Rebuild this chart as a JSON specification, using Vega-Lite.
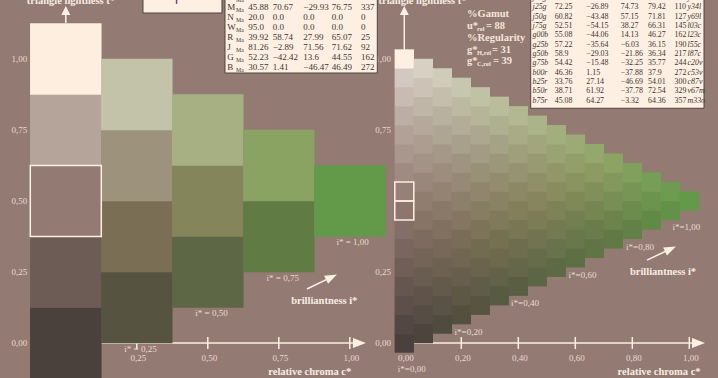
{
  "$schema": "https://vega.github.io/schema/vega-lite/v6.json",
  "width": 718,
  "height": 378,
  "padding": 0,
  "autosize": {"type": "none"},
  "background": "#937a73",
  "config": {"view": {"stroke": null}, "axis": {"disable": true}, "legend": {"disable": true}, "text": {"font": "Liberation Serif"}},
  "resolve": {"scale": {"x": "independent", "y": "independent", "color": "independent"}},
  "layer": [
    {
      "layer": [
        {"data": {"values": [{}]}, "mark": {"type": "rule", "color": "#fdf0e2", "strokeWidth": 1.5},
         "encoding": {"x": {"datum": 0, "type": "quantitative", "scale": {"domain": [-0.23169, 2.29648], "nice": false, "zero": false}}, "x2": {"datum": 1.03},
                      "y": {"datum": 0, "type": "quantitative", "scale": {"domain": [-0.12324, 1.20775], "nice": false, "zero": false}}}},
        {"data": {"values": [{}]}, "mark": {"type": "point", "shape": "M-1,-0.77L1,0L-1,0.77Z", "size": 169, "filled": true, "color": "#fdf0e2", "opacity": 1},
         "encoding": {"x": {"datum": 1.034, "type": "quantitative", "scale": {"domain": [-0.23169, 2.29648], "nice": false, "zero": false}},
                      "y": {"datum": 0, "type": "quantitative", "scale": {"domain": [-0.12324, 1.20775], "nice": false, "zero": false}}}},
        {"data": {"values": [{"c": 0.25, "lab": "0,25"}, {"c": 0.5, "lab": "0,50"}, {"c": 0.75, "lab": "0,75"}, {"c": 1, "lab": "1,00"}]},
         "layer": [
           {"mark": {"type": "rule", "color": "#fdf0e2", "strokeWidth": 1.5},
            "encoding": {"x": {"field": "c", "type": "quantitative", "scale": {"domain": [-0.23169, 2.29648], "nice": false, "zero": false}},
                         "y": {"datum": -0.021, "type": "quantitative", "scale": {"domain": [-0.12324, 1.20775], "nice": false, "zero": false}}, "y2": {"datum": 0.021}}},
           {"mark": {"type": "text", "align": "center", "baseline": "middle", "fontSize": 9, "color": "#eadbd0", "dx": 1.5},
            "encoding": {"x": {"field": "c", "type": "quantitative", "scale": {"domain": [-0.23169, 2.29648], "nice": false, "zero": false}},
                         "y": {"datum": -0.053, "type": "quantitative", "scale": {"domain": [-0.12324, 1.20775], "nice": false, "zero": false}}, "text": {"field": "lab"}}}
         ]},
        {"data": {"values": [
          {"c": 0, "t": 0, "id": "L0"}, {"c": 0, "t": 0.25, "id": "L1"}, {"c": 0, "t": 0.5, "id": "L2"}, {"c": 0, "t": 0.75, "id": "L3"}, {"c": 0, "t": 1, "id": "L4"},
          {"c": 0.25, "t": 0.125, "id": "L5"}, {"c": 0.25, "t": 0.375, "id": "L6"}, {"c": 0.25, "t": 0.625, "id": "L7"}, {"c": 0.25, "t": 0.875, "id": "L8"},
          {"c": 0.5, "t": 0.25, "id": "L9"}, {"c": 0.5, "t": 0.5, "id": "L10"}, {"c": 0.5, "t": 0.75, "id": "L11"},
          {"c": 0.75, "t": 0.375, "id": "L12"}, {"c": 0.75, "t": 0.625, "id": "L13"},
          {"c": 1, "t": 0.5, "id": "L14"}]},
         "mark": {"type": "point", "shape": "square", "filled": true, "size": 5112, "opacity": 1},
         "encoding": {"x": {"field": "c", "type": "quantitative", "scale": {"domain": [-0.23169, 2.29648], "nice": false, "zero": false}},
                      "y": {"field": "t", "type": "quantitative", "scale": {"domain": [-0.12324, 1.20775], "nice": false, "zero": false}},
                      "color": {"field": "id", "type": "nominal", "legend": null,
                                "scale": {"domain": ["L0","L1","L2","L3","L4","L5","L6","L7","L8","L9","L10","L11","L12","L13","L14"],
                                          "range": ["#4a403c","#6d5c55","#937a73","#b4a49a","#fdeee0","#565441","#7a6f55","#9d937d","#c2c3a8","#5d6745","#85855b","#a7b083","#617b45","#8aa262","#629a4a"]}}}},
        {"data": {"values": [{"c": 0, "t": 0.5}]}, "mark": {"type": "point", "shape": "square", "filled": false, "size": 5041, "color": "#fdf0e2", "strokeWidth": 1.5, "opacity": 1},
         "encoding": {"x": {"field": "c", "type": "quantitative", "scale": {"domain": [-0.23169, 2.29648], "nice": false, "zero": false}},
                      "y": {"field": "t", "type": "quantitative", "scale": {"domain": [-0.12324, 1.20775], "nice": false, "zero": false}}}},
        {"data": {"values": [{"t": 1, "lab": "1,00"}, {"t": 0.75, "lab": "0,75"}, {"t": 0.5, "lab": "0,50"}, {"t": 0.25, "lab": "0,25"}, {"t": 0, "lab": "0,00"}]},
         "mark": {"type": "text", "align": "right", "baseline": "middle", "fontSize": 9, "color": "#eadbd0"},
         "encoding": {"x": {"datum": -0.136, "type": "quantitative", "scale": {"domain": [-0.23169, 2.29648], "nice": false, "zero": false}},
                      "y": {"field": "t", "type": "quantitative", "scale": {"domain": [-0.12324, 1.20775], "nice": false, "zero": false}}, "text": {"field": "lab"}}},
        {"data": {"values": [{"c": 0.263, "t": -0.021, "lab": "i* = 0,25"}, {"c": 0.513, "t": 0.107, "lab": "i* = 0,50"}, {"c": 0.764, "t": 0.229, "lab": "i* = 0,75"}, {"c": 1.01, "t": 0.357, "lab": "i* = 1,00"}]},
         "mark": {"type": "text", "align": "center", "baseline": "middle", "fontSize": 9, "color": "#eadbd0"},
         "encoding": {"x": {"field": "c", "type": "quantitative", "scale": {"domain": [-0.23169, 2.29648], "nice": false, "zero": false}},
                      "y": {"field": "t", "type": "quantitative", "scale": {"domain": [-0.12324, 1.20775], "nice": false, "zero": false}}, "text": {"field": "lab"}}},
        {"data": {"values": [{"c": 0.91, "t": 0.149, "lab": "brilliantness i*"}, {"c": 0.859, "t": -0.101, "lab": "relative chroma c*"}, {"c": 0.018, "t": 1.2025, "lab": "triangle lightness t*"}]},
         "mark": {"type": "text", "align": "center", "baseline": "middle", "fontSize": 10.5, "fontWeight": "bold", "color": "#f8ede2"},
         "encoding": {"x": {"field": "c", "type": "quantitative", "scale": {"domain": [-0.23169, 2.29648], "nice": false, "zero": false}},
                      "y": {"field": "t", "type": "quantitative", "scale": {"domain": [-0.12324, 1.20775], "nice": false, "zero": false}}, "text": {"field": "lab"}}},
        {"data": {"values": [{"c": 0.849, "t": 0.19, "c2": 0.9356, "t2": 0.2317}, {"c": 0, "t": 1.127, "c2": 0, "t2": 1.16}]},
         "mark": {"type": "rule", "color": "#fdf0e2", "strokeWidth": 1.5},
         "encoding": {"x": {"field": "c", "type": "quantitative", "scale": {"domain": [-0.23169, 2.29648], "nice": false, "zero": false}}, "x2": {"field": "c2"},
                      "y": {"field": "t", "type": "quantitative", "scale": {"domain": [-0.12324, 1.20775], "nice": false, "zero": false}}, "y2": {"field": "t2"}}},
        {"data": {"values": [{}]}, "mark": {"type": "point", "shape": "M-1,-0.75L1,0L-1,0.75Z", "size": 144, "angle": -26, "filled": true, "color": "#fdf0e2", "opacity": 1},
         "encoding": {"x": {"datum": 0.9356, "type": "quantitative", "scale": {"domain": [-0.23169, 2.29648], "nice": false, "zero": false}},
                      "y": {"datum": 0.2317, "type": "quantitative", "scale": {"domain": [-0.12324, 1.20775], "nice": false, "zero": false}}}},
        {"data": {"values": [{}]}, "mark": {"type": "point", "shape": "M0,-1L1,1L-1,1Z", "size": 81, "filled": true, "color": "#fdf0e2", "opacity": 1},
         "encoding": {"x": {"datum": 0, "type": "quantitative", "scale": {"domain": [-0.23169, 2.29648], "nice": false, "zero": false}},
                      "y": {"datum": 1.1708, "type": "quantitative", "scale": {"domain": [-0.12324, 1.20775], "nice": false, "zero": false}}}},
        {"data": {"values": [{}]}, "mark": {"type": "rect", "fill": "#fdf0e2", "stroke": "#4e4541", "strokeWidth": 1},
         "encoding": {"x": {"datum": 0.2718, "type": "quantitative", "scale": {"domain": [-0.23169, 2.29648], "nice": false, "zero": false}}, "x2": {"datum": 0.55},
                      "y": {"datum": 1.162, "type": "quantitative", "scale": {"domain": [-0.12324, 1.20775], "nice": false, "zero": false}}, "y2": {"datum": 1.26}}},
        {"data": {"values": [{}]}, "mark": {"type": "rule", "color": "#7b3f9a", "strokeWidth": 1.5},
         "encoding": {"x": {"datum": 0.39, "type": "quantitative", "scale": {"domain": [-0.23169, 2.29648], "nice": false, "zero": false}},
                      "y": {"datum": 1.194, "type": "quantitative", "scale": {"domain": [-0.12324, 1.20775], "nice": false, "zero": false}}, "y2": {"datum": 1.26}}}
      ]
    },
    {
      "layer": [
        {"data": {"values": [{}]}, "mark": {"type": "rule", "color": "#fdf0e2", "strokeWidth": 1.5},
         "encoding": {"x": {"datum": 0, "type": "quantitative", "scale": {"domain": [-1.4186, 1.1007], "nice": false, "zero": false}}, "x2": {"datum": 1.03},
                      "y": {"datum": 0, "type": "quantitative", "scale": {"domain": [-0.12324, 1.20775], "nice": false, "zero": false}}}},
        {"data": {"values": [{}]}, "mark": {"type": "point", "shape": "M-1,-0.77L1,0L-1,0.77Z", "size": 169, "filled": true, "color": "#fdf0e2", "opacity": 1},
         "encoding": {"x": {"datum": 1.0323, "type": "quantitative", "scale": {"domain": [-1.4186, 1.1007], "nice": false, "zero": false}},
                      "y": {"datum": 0, "type": "quantitative", "scale": {"domain": [-0.12324, 1.20775], "nice": false, "zero": false}}}},
        {"data": {"values": [{"c": 0, "lab": "0,00"}, {"c": 0.2, "lab": "0,20"}, {"c": 0.4, "lab": "0,40"}, {"c": 0.6, "lab": "0,60"}, {"c": 0.8, "lab": "0,80"}, {"c": 1, "lab": "1,00"}]},
         "layer": [
           {"mark": {"type": "rule", "color": "#fdf0e2", "strokeWidth": 1.5},
            "encoding": {"x": {"field": "c", "type": "quantitative", "scale": {"domain": [-1.4186, 1.1007], "nice": false, "zero": false}},
                         "y": {"datum": -0.021, "type": "quantitative", "scale": {"domain": [-0.12324, 1.20775], "nice": false, "zero": false}}, "y2": {"datum": 0.021}}},
           {"mark": {"type": "text", "align": "center", "baseline": "middle", "fontSize": 9, "color": "#eadbd0", "dx": 1.5},
            "encoding": {"x": {"field": "c", "type": "quantitative", "scale": {"domain": [-1.4186, 1.1007], "nice": false, "zero": false}},
                         "y": {"datum": -0.053, "type": "quantitative", "scale": {"domain": [-0.12324, 1.20775], "nice": false, "zero": false}}, "text": {"field": "lab"}}}
         ]},
        {"data": {"values": [
          {"c":0,"t":0,"id":"0_0"},{"c":0,"t":0.0667,"id":"0_1"},{"c":0,"t":0.1333,"id":"0_2"},{"c":0,"t":0.2,"id":"0_3"},{"c":0,"t":0.2667,"id":"0_4"},{"c":0,"t":0.3333,"id":"0_5"},{"c":0,"t":0.4,"id":"0_6"},{"c":0,"t":0.4667,"id":"0_7"},{"c":0,"t":0.5333,"id":"0_8"},{"c":0,"t":0.6,"id":"0_9"},{"c":0,"t":0.6667,"id":"0_10"},{"c":0,"t":0.7333,"id":"0_11"},{"c":0,"t":0.8,"id":"0_12"},{"c":0,"t":0.8667,"id":"0_13"},{"c":0,"t":0.9333,"id":"0_14"},{"c":0,"t":1,"id":"0_15"},
          {"c":0.0667,"t":0.0333,"id":"1_0"},{"c":0.0667,"t":0.1,"id":"1_1"},{"c":0.0667,"t":0.1667,"id":"1_2"},{"c":0.0667,"t":0.2333,"id":"1_3"},{"c":0.0667,"t":0.3,"id":"1_4"},{"c":0.0667,"t":0.3667,"id":"1_5"},{"c":0.0667,"t":0.4333,"id":"1_6"},{"c":0.0667,"t":0.5,"id":"1_7"},{"c":0.0667,"t":0.5667,"id":"1_8"},{"c":0.0667,"t":0.6333,"id":"1_9"},{"c":0.0667,"t":0.7,"id":"1_10"},{"c":0.0667,"t":0.7667,"id":"1_11"},{"c":0.0667,"t":0.8333,"id":"1_12"},{"c":0.0667,"t":0.9,"id":"1_13"},{"c":0.0667,"t":0.9667,"id":"1_14"},
          {"c":0.1333,"t":0.0667,"id":"2_0"},{"c":0.1333,"t":0.1333,"id":"2_1"},{"c":0.1333,"t":0.2,"id":"2_2"},{"c":0.1333,"t":0.2667,"id":"2_3"},{"c":0.1333,"t":0.3333,"id":"2_4"},{"c":0.1333,"t":0.4,"id":"2_5"},{"c":0.1333,"t":0.4667,"id":"2_6"},{"c":0.1333,"t":0.5333,"id":"2_7"},{"c":0.1333,"t":0.6,"id":"2_8"},{"c":0.1333,"t":0.6667,"id":"2_9"},{"c":0.1333,"t":0.7333,"id":"2_10"},{"c":0.1333,"t":0.8,"id":"2_11"},{"c":0.1333,"t":0.8667,"id":"2_12"},{"c":0.1333,"t":0.9333,"id":"2_13"},
          {"c":0.2,"t":0.1,"id":"3_0"},{"c":0.2,"t":0.1667,"id":"3_1"},{"c":0.2,"t":0.2333,"id":"3_2"},{"c":0.2,"t":0.3,"id":"3_3"},{"c":0.2,"t":0.3667,"id":"3_4"},{"c":0.2,"t":0.4333,"id":"3_5"},{"c":0.2,"t":0.5,"id":"3_6"},{"c":0.2,"t":0.5667,"id":"3_7"},{"c":0.2,"t":0.6333,"id":"3_8"},{"c":0.2,"t":0.7,"id":"3_9"},{"c":0.2,"t":0.7667,"id":"3_10"},{"c":0.2,"t":0.8333,"id":"3_11"},{"c":0.2,"t":0.9,"id":"3_12"},
          {"c":0.2667,"t":0.1333,"id":"4_0"},{"c":0.2667,"t":0.2,"id":"4_1"},{"c":0.2667,"t":0.2667,"id":"4_2"},{"c":0.2667,"t":0.3333,"id":"4_3"},{"c":0.2667,"t":0.4,"id":"4_4"},{"c":0.2667,"t":0.4667,"id":"4_5"},{"c":0.2667,"t":0.5333,"id":"4_6"},{"c":0.2667,"t":0.6,"id":"4_7"},{"c":0.2667,"t":0.6667,"id":"4_8"},{"c":0.2667,"t":0.7333,"id":"4_9"},{"c":0.2667,"t":0.8,"id":"4_10"},{"c":0.2667,"t":0.8667,"id":"4_11"},
          {"c":0.3333,"t":0.1667,"id":"5_0"},{"c":0.3333,"t":0.2333,"id":"5_1"},{"c":0.3333,"t":0.3,"id":"5_2"},{"c":0.3333,"t":0.3667,"id":"5_3"},{"c":0.3333,"t":0.4333,"id":"5_4"},{"c":0.3333,"t":0.5,"id":"5_5"},{"c":0.3333,"t":0.5667,"id":"5_6"},{"c":0.3333,"t":0.6333,"id":"5_7"},{"c":0.3333,"t":0.7,"id":"5_8"},{"c":0.3333,"t":0.7667,"id":"5_9"},{"c":0.3333,"t":0.8333,"id":"5_10"},
          {"c":0.4,"t":0.2,"id":"6_0"},{"c":0.4,"t":0.2667,"id":"6_1"},{"c":0.4,"t":0.3333,"id":"6_2"},{"c":0.4,"t":0.4,"id":"6_3"},{"c":0.4,"t":0.4667,"id":"6_4"},{"c":0.4,"t":0.5333,"id":"6_5"},{"c":0.4,"t":0.6,"id":"6_6"},{"c":0.4,"t":0.6667,"id":"6_7"},{"c":0.4,"t":0.7333,"id":"6_8"},{"c":0.4,"t":0.8,"id":"6_9"},
          {"c":0.4667,"t":0.2333,"id":"7_0"},{"c":0.4667,"t":0.3,"id":"7_1"},{"c":0.4667,"t":0.3667,"id":"7_2"},{"c":0.4667,"t":0.4333,"id":"7_3"},{"c":0.4667,"t":0.5,"id":"7_4"},{"c":0.4667,"t":0.5667,"id":"7_5"},{"c":0.4667,"t":0.6333,"id":"7_6"},{"c":0.4667,"t":0.7,"id":"7_7"},{"c":0.4667,"t":0.7667,"id":"7_8"},
          {"c":0.5333,"t":0.2667,"id":"8_0"},{"c":0.5333,"t":0.3333,"id":"8_1"},{"c":0.5333,"t":0.4,"id":"8_2"},{"c":0.5333,"t":0.4667,"id":"8_3"},{"c":0.5333,"t":0.5333,"id":"8_4"},{"c":0.5333,"t":0.6,"id":"8_5"},{"c":0.5333,"t":0.6667,"id":"8_6"},{"c":0.5333,"t":0.7333,"id":"8_7"},
          {"c":0.6,"t":0.3,"id":"9_0"},{"c":0.6,"t":0.3667,"id":"9_1"},{"c":0.6,"t":0.4333,"id":"9_2"},{"c":0.6,"t":0.5,"id":"9_3"},{"c":0.6,"t":0.5667,"id":"9_4"},{"c":0.6,"t":0.6333,"id":"9_5"},{"c":0.6,"t":0.7,"id":"9_6"},
          {"c":0.6667,"t":0.3333,"id":"10_0"},{"c":0.6667,"t":0.4,"id":"10_1"},{"c":0.6667,"t":0.4667,"id":"10_2"},{"c":0.6667,"t":0.5333,"id":"10_3"},{"c":0.6667,"t":0.6,"id":"10_4"},{"c":0.6667,"t":0.6667,"id":"10_5"},
          {"c":0.7333,"t":0.3667,"id":"11_0"},{"c":0.7333,"t":0.4333,"id":"11_1"},{"c":0.7333,"t":0.5,"id":"11_2"},{"c":0.7333,"t":0.5667,"id":"11_3"},{"c":0.7333,"t":0.6333,"id":"11_4"},
          {"c":0.8,"t":0.4,"id":"12_0"},{"c":0.8,"t":0.4667,"id":"12_1"},{"c":0.8,"t":0.5333,"id":"12_2"},{"c":0.8,"t":0.6,"id":"12_3"},
          {"c":0.8667,"t":0.4333,"id":"13_0"},{"c":0.8667,"t":0.5,"id":"13_1"},{"c":0.8667,"t":0.5667,"id":"13_2"},
          {"c":0.9333,"t":0.4667,"id":"14_0"},{"c":0.9333,"t":0.5333,"id":"14_1"},
          {"c":1,"t":0.5,"id":"15_0"}]},
         "mark": {"type": "point", "shape": "square", "filled": true, "size": 376, "opacity": 1},
         "encoding": {"x": {"field": "c", "type": "quantitative", "scale": {"domain": [-1.4186, 1.1007], "nice": false, "zero": false}},
                      "y": {"field": "t", "type": "quantitative", "scale": {"domain": [-0.12324, 1.20775], "nice": false, "zero": false}},
                      "color": {"field": "id", "type": "nominal", "legend": null,
                                "scale": {"domain": ["0_0","0_1","0_2","0_3","0_4","0_5","0_6","0_7","0_8","0_9","0_10","0_11","0_12","0_13","0_14","0_15",
                                                     "1_0","1_1","1_2","1_3","1_4","1_5","1_6","1_7","1_8","1_9","1_10","1_11","1_12","1_13","1_14",
                                                     "2_0","2_1","2_2","2_3","2_4","2_5","2_6","2_7","2_8","2_9","2_10","2_11","2_12","2_13",
                                                     "3_0","3_1","3_2","3_3","3_4","3_5","3_6","3_7","3_8","3_9","3_10","3_11","3_12",
                                                     "4_0","4_1","4_2","4_3","4_4","4_5","4_6","4_7","4_8","4_9","4_10","4_11",
                                                     "5_0","5_1","5_2","5_3","5_4","5_5","5_6","5_7","5_8","5_9","5_10",
                                                     "6_0","6_1","6_2","6_3","6_4","6_5","6_6","6_7","6_8","6_9",
                                                     "7_0","7_1","7_2","7_3","7_4","7_5","7_6","7_7","7_8",
                                                     "8_0","8_1","8_2","8_3","8_4","8_5","8_6","8_7",
                                                     "9_0","9_1","9_2","9_3","9_4","9_5","9_6",
                                                     "10_0","10_1","10_2","10_3","10_4","10_5",
                                                     "11_0","11_1","11_2","11_3","11_4",
                                                     "12_0","12_1","12_2","12_3",
                                                     "13_0","13_1","13_2",
                                                     "14_0","14_1",
                                                     "15_0"],
                                          "range": ["#4a403c","#534743","#5d4f49","#665650","#705e57","#7a665f","#846e67","#8e766f","#978078","#a08b83","#a9968d","#b2a197","#bcaea4","#c8bbb2","#d3c9c0","#fdf0e2",
                                                    "#4d453d","#564d44","#60544a","#695c51","#746357","#7e6b5f","#887367","#917c70","#9a877b","#a39286","#ac9d90","#b5a99b","#c0b6a8","#ccc3b6","#d7d1c4",
                                                    "#504b3f","#595246","#635a4c","#6d6151","#776857","#81705f","#8a7968","#948373","#9c8d7d","#a59888","#afa593","#b9b19f","#c4bfac","#d0ccba",
                                                    "#545040","#5d5746","#675f4c","#706651","#7a6d57","#847660","#8d806b","#968976","#9f9480","#a9a08b","#b3ad97","#bdbaa2","#c7c7af",
                                                    "#575541","#605c47","#6a644c","#736b51","#7d7358","#867d63","#90866d","#999078","#a39b83","#aca88f","#b6b59a","#c0c2a6",
                                                    "#585a42","#626248","#6c694d","#767053","#80795a","#898264","#938c6f","#9c977a","#a5a385","#afb090","#b9bd9c",
                                                    "#5a5f43","#646749","#6e6e4e","#797654","#837f5b","#8c8866","#959371","#9f9f7b","#a8ab86","#b2b892",
                                                    "#5c6545","#666c4a","#717450","#7c7c56","#86855d","#8f8f68","#989b72","#a1a67d","#abb388",
                                                    "#5e6a45","#68724b","#737a51","#7e8257","#888c5f","#919769","#9aa374","#a3ae7f",
                                                    "#5f6f45","#69774b","#747f51","#7f8958","#899461","#929f6b","#9baa76",
                                                    "#607445","#6a7c4b","#758652","#80905a","#8b9b62","#94a76d",
                                                    "#617a45","#6c844c","#778e54","#82985c","#8ca364",
                                                    "#618146","#6c8c4e","#779656","#82a05d",
                                                    "#628a47","#6c944f","#779e57",
                                                    "#629249","#6d9c50",
                                                    "#629a4a"]}}}},
        {"data": {"values": [{"c": 0, "t": 0.4667}, {"c": 0, "t": 0.5333}]}, "mark": {"type": "point", "shape": "square", "filled": false, "size": 361, "color": "#fdf0e2", "strokeWidth": 1.5, "opacity": 1},
         "encoding": {"x": {"field": "c", "type": "quantitative", "scale": {"domain": [-1.4186, 1.1007], "nice": false, "zero": false}},
                      "y": {"field": "t", "type": "quantitative", "scale": {"domain": [-0.12324, 1.20775], "nice": false, "zero": false}}}},
        {"data": {"values": [{"t": 1, "lab": "1,00"}, {"t": 0.75, "lab": "0,75"}, {"t": 0.25, "lab": "0,25"}, {"t": 0, "lab": "0,00"}]},
         "mark": {"type": "text", "align": "right", "baseline": "middle", "fontSize": 9, "color": "#eadbd0"},
         "encoding": {"x": {"datum": -0.047, "type": "quantitative", "scale": {"domain": [-1.4186, 1.1007], "nice": false, "zero": false}},
                      "y": {"field": "t", "type": "quantitative", "scale": {"domain": [-0.12324, 1.20775], "nice": false, "zero": false}}, "text": {"field": "lab"}}},
        {"data": {"values": [{"c": 0.026, "t": -0.092, "lab": "i*=0,00"}, {"c": 0.2253, "t": 0.04, "lab": "i*=0,20"}, {"c": 0.4235, "t": 0.142, "lab": "i*=0,40"}, {"c": 0.6253, "t": 0.239, "lab": "i*=0,60"}, {"c": 0.827, "t": 0.339, "lab": "i*=0,80"}, {"c": 0.99, "t": 0.41, "lab": "i*=1,00"}]},
         "mark": {"type": "text", "align": "center", "baseline": "middle", "fontSize": 9, "color": "#eadbd0"},
         "encoding": {"x": {"field": "c", "type": "quantitative", "scale": {"domain": [-1.4186, 1.1007], "nice": false, "zero": false}},
                      "y": {"field": "t", "type": "quantitative", "scale": {"domain": [-0.12324, 1.20775], "nice": false, "zero": false}}, "text": {"field": "lab"}}},
        {"data": {"values": [{"c": 0.9077, "t": 0.251, "lab": "brilliantness i*"}, {"c": 0.894, "t": -0.101, "lab": "relative chroma c*"}, {"c": 0.064, "t": 1.2025, "lab": "triangle lightness t*"}]},
         "mark": {"type": "text", "align": "center", "baseline": "middle", "fontSize": 10.5, "fontWeight": "bold", "color": "#f8ede2"},
         "encoding": {"x": {"field": "c", "type": "quantitative", "scale": {"domain": [-1.4186, 1.1007], "nice": false, "zero": false}},
                      "y": {"field": "t", "type": "quantitative", "scale": {"domain": [-0.12324, 1.20775], "nice": false, "zero": false}}, "text": {"field": "lab"}}},
        {"data": {"values": [{"c": 0.22, "t": 1.1567, "s": "%Gamut"}, {"c": 0.22, "t": 1.1155, "s": "u*"}, {"c": 0.2867, "t": 1.1155, "s": "= 88"}, {"c": 0.22, "t": 1.0743, "s": "%Regularity"}, {"c": 0.22, "t": 1.0331, "s": "g*"}, {"c": 0.3077, "t": 1.0331, "s": "= 31"}, {"c": 0.22, "t": 0.9919, "s": "g*"}, {"c": 0.311, "t": 0.9919, "s": "= 39"}]},
         "mark": {"type": "text", "align": "left", "baseline": "middle", "fontSize": 10.5, "fontWeight": "bold", "color": "#f3e6da"},
         "encoding": {"x": {"field": "c", "type": "quantitative", "scale": {"domain": [-1.4186, 1.1007], "nice": false, "zero": false}},
                      "y": {"field": "t", "type": "quantitative", "scale": {"domain": [-0.12324, 1.20775], "nice": false, "zero": false}}, "text": {"field": "s"}}},
        {"data": {"values": [{"c": 0.255, "t": 1.1155, "s": "rel"}, {"c": 0.255, "t": 1.0331, "s": "H,rel"}, {"c": 0.255, "t": 0.9919, "s": "C,rel"}]},
         "mark": {"type": "text", "align": "left", "baseline": "middle", "fontSize": 6.5, "fontWeight": "bold", "color": "#f3e6da", "dy": 3},
         "encoding": {"x": {"field": "c", "type": "quantitative", "scale": {"domain": [-1.4186, 1.1007], "nice": false, "zero": false}},
                      "y": {"field": "t", "type": "quantitative", "scale": {"domain": [-0.12324, 1.20775], "nice": false, "zero": false}}, "text": {"field": "s"}}},
        {"data": {"values": [{"c": 0.8516, "t": 0.292, "c2": 0.934, "t2": 0.331}, {"c": 0, "t": 1.0335, "c2": 0, "t2": 1.16}]},
         "mark": {"type": "rule", "color": "#fdf0e2", "strokeWidth": 1.5},
         "encoding": {"x": {"field": "c", "type": "quantitative", "scale": {"domain": [-1.4186, 1.1007], "nice": false, "zero": false}}, "x2": {"field": "c2"},
                      "y": {"field": "t", "type": "quantitative", "scale": {"domain": [-0.12324, 1.20775], "nice": false, "zero": false}}, "y2": {"field": "t2"}}},
        {"data": {"values": [{}]}, "mark": {"type": "point", "shape": "M-1,-0.75L1,0L-1,0.75Z", "size": 144, "angle": -25, "filled": true, "color": "#fdf0e2", "opacity": 1},
         "encoding": {"x": {"datum": 0.934, "type": "quantitative", "scale": {"domain": [-1.4186, 1.1007], "nice": false, "zero": false}},
                      "y": {"datum": 0.331, "type": "quantitative", "scale": {"domain": [-0.12324, 1.20775], "nice": false, "zero": false}}}},
        {"data": {"values": [{}]}, "mark": {"type": "point", "shape": "M0,-1L1,1L-1,1Z", "size": 81, "filled": true, "color": "#fdf0e2", "opacity": 1},
         "encoding": {"x": {"datum": 0, "type": "quantitative", "scale": {"domain": [-1.4186, 1.1007], "nice": false, "zero": false}},
                      "y": {"datum": 1.1708, "type": "quantitative", "scale": {"domain": [-0.12324, 1.20775], "nice": false, "zero": false}}}}
      ]
    },
    {
      "data": {"values": [
        {"row": 0, "n": "V", "L": "28.04", "a": "41.85", "b": "−51.45", "C": "66.31", "h": "309"},
        {"row": 1, "n": "M", "L": "45.88", "a": "70.67", "b": "−29.93", "C": "76.75", "h": "337"},
        {"row": 2, "n": "N", "L": "20.0", "a": "0.0", "b": "0.0", "C": "0.0", "h": "0"},
        {"row": 3, "n": "W", "L": "95.0", "a": "0.0", "b": "0.0", "C": "0.0", "h": "0"},
        {"row": 4, "n": "R", "L": "39.92", "a": "58.74", "b": "27.99", "C": "65.07", "h": "25"},
        {"row": 5, "n": "J", "L": "81.26", "a": "−2.89", "b": "71.56", "C": "71.62", "h": "92"},
        {"row": 6, "n": "G", "L": "52.23", "a": "−42.42", "b": "13.6", "C": "44.55", "h": "162"},
        {"row": 7, "n": "B", "L": "30.57", "a": "1.41", "b": "−46.47", "C": "46.49", "h": "272"}]},
      "layer": [
        {"data": {"values": [{}]}, "mark": {"type": "rect", "fill": "#fdf0e2", "stroke": "#4e4541", "strokeWidth": 1},
         "encoding": {"x": {"datum": -1, "type": "quantitative", "scale": {"domain": [-1, 0, 1, 2, 3, 4, 5, 6], "range": [225, 227.3, 248.3, 272.7, 303.3, 331.7, 361, 377.3], "nice": false, "zero": false}}, "x2": {"datum": 6},
                      "y": {"datum": -2, "type": "quantitative", "scale": {"domain": [0, 7], "range": [-3, 67], "nice": false, "zero": false}}, "y2": {"datum": 7.6}}},
        {"mark": {"type": "text", "align": "left", "baseline": "middle", "fontSize": 9, "color": "#3d3431"},
         "encoding": {"x": {"datum": 0, "type": "quantitative", "scale": {"domain": [-1, 0, 1, 2, 3, 4, 5, 6], "range": [225, 227.3, 248.3, 272.7, 303.3, 331.7, 361, 377.3], "nice": false, "zero": false}},
                      "y": {"field": "row", "type": "quantitative", "scale": {"domain": [0, 7], "range": [-3, 67], "nice": false, "zero": false}}, "text": {"field": "n"}}},
        {"mark": {"type": "text", "align": "left", "baseline": "middle", "fontSize": 5.8, "color": "#3d3431", "dy": 2.5},
         "encoding": {"x": {"datum": 0.42, "type": "quantitative", "scale": {"domain": [-1, 0, 1, 2, 3, 4, 5, 6], "range": [225, 227.3, 248.3, 272.7, 303.3, 331.7, 361, 377.3], "nice": false, "zero": false}},
                      "y": {"field": "row", "type": "quantitative", "scale": {"domain": [0, 7], "range": [-3, 67], "nice": false, "zero": false}}, "text": {"value": "Ma"}}},
        {"mark": {"type": "text", "align": "left", "baseline": "middle", "fontSize": 9, "color": "#3d3431"},
         "encoding": {"x": {"datum": 1, "type": "quantitative", "scale": {"domain": [-1, 0, 1, 2, 3, 4, 5, 6], "range": [225, 227.3, 248.3, 272.7, 303.3, 331.7, 361, 377.3], "nice": false, "zero": false}},
                      "y": {"field": "row", "type": "quantitative", "scale": {"domain": [0, 7], "range": [-3, 67], "nice": false, "zero": false}}, "text": {"field": "L"}}},
        {"mark": {"type": "text", "align": "left", "baseline": "middle", "fontSize": 9, "color": "#3d3431"},
         "encoding": {"x": {"datum": 2, "type": "quantitative", "scale": {"domain": [-1, 0, 1, 2, 3, 4, 5, 6], "range": [225, 227.3, 248.3, 272.7, 303.3, 331.7, 361, 377.3], "nice": false, "zero": false}},
                      "y": {"field": "row", "type": "quantitative", "scale": {"domain": [0, 7], "range": [-3, 67], "nice": false, "zero": false}}, "text": {"field": "a"}}},
        {"mark": {"type": "text", "align": "left", "baseline": "middle", "fontSize": 9, "color": "#3d3431"},
         "encoding": {"x": {"datum": 3, "type": "quantitative", "scale": {"domain": [-1, 0, 1, 2, 3, 4, 5, 6], "range": [225, 227.3, 248.3, 272.7, 303.3, 331.7, 361, 377.3], "nice": false, "zero": false}},
                      "y": {"field": "row", "type": "quantitative", "scale": {"domain": [0, 7], "range": [-3, 67], "nice": false, "zero": false}}, "text": {"field": "b"}}},
        {"mark": {"type": "text", "align": "left", "baseline": "middle", "fontSize": 9, "color": "#3d3431"},
         "encoding": {"x": {"datum": 4, "type": "quantitative", "scale": {"domain": [-1, 0, 1, 2, 3, 4, 5, 6], "range": [225, 227.3, 248.3, 272.7, 303.3, 331.7, 361, 377.3], "nice": false, "zero": false}},
                      "y": {"field": "row", "type": "quantitative", "scale": {"domain": [0, 7], "range": [-3, 67], "nice": false, "zero": false}}, "text": {"field": "C"}}},
        {"mark": {"type": "text", "align": "left", "baseline": "middle", "fontSize": 9, "color": "#3d3431"},
         "encoding": {"x": {"datum": 5, "type": "quantitative", "scale": {"domain": [-1, 0, 1, 2, 3, 4, 5, 6], "range": [225, 227.3, 248.3, 272.7, 303.3, 331.7, 361, 377.3], "nice": false, "zero": false}},
                      "y": {"field": "row", "type": "quantitative", "scale": {"domain": [0, 7], "range": [-3, 67], "nice": false, "zero": false}}, "text": {"field": "h"}}}
      ]
    },
    {
      "data": {"values": [
        {"row": 0, "n": "j00g", "L": "81.26", "a": "−2.89", "b": "71.56", "C": "71.62", "h": "92", "k": "y00l"},
        {"row": 1, "n": "j25g", "L": "72.25", "a": "−26.89", "b": "74.73", "C": "79.42", "h": "110", "k": "y34l"},
        {"row": 2, "n": "j50g", "L": "60.82", "a": "−43.48", "b": "57.15", "C": "71.81", "h": "127", "k": "y69l"},
        {"row": 3, "n": "j75g", "L": "52.51", "a": "−54.15", "b": "38.27", "C": "66.31", "h": "145", "k": "l03c"},
        {"row": 4, "n": "g00b", "L": "55.08", "a": "−44.06", "b": "14.13", "C": "46.27", "h": "162", "k": "l23c"},
        {"row": 5, "n": "g25b", "L": "57.22", "a": "−35.64", "b": "−6.03", "C": "36.15", "h": "190", "k": "l55c"},
        {"row": 6, "n": "g50b", "L": "58.9", "a": "−29.03", "b": "−21.86", "C": "36.34", "h": "217", "k": "l87c"},
        {"row": 7, "n": "g75b", "L": "54.42", "a": "−15.48", "b": "−32.25", "C": "35.77", "h": "244", "k": "c20v"},
        {"row": 8, "n": "b00r", "L": "46.36", "a": "1.15", "b": "−37.88", "C": "37.9", "h": "272", "k": "c53v"},
        {"row": 9, "n": "b25r", "L": "33.76", "a": "27.14", "b": "−46.69", "C": "54.01", "h": "300", "k": "c87v"},
        {"row": 10, "n": "b50r", "L": "38.71", "a": "61.92", "b": "−37.78", "C": "72.54", "h": "329", "k": "v67m"},
        {"row": 11, "n": "b75r", "L": "45.08", "a": "64.27", "b": "−3.32", "C": "64.36", "h": "357", "k": "m33o"}]},
      "layer": [
        {"data": {"values": [{}]}, "mark": {"type": "rect", "fill": "#fdf0e2", "stroke": "#4e4541", "strokeWidth": 1},
         "encoding": {"x": {"datum": -1, "type": "quantitative", "scale": {"domain": [-1, 0, 1, 2, 3, 4, 5, 6, 7], "range": [530.7, 532.5, 554.7, 586.3, 620.7, 648, 674.5, 687.5, 704], "nice": false, "zero": false}}, "x2": {"datum": 7},
                      "y": {"datum": -3, "type": "quantitative", "scale": {"domain": [0, 11], "range": [-2.05, 100.8], "nice": false, "zero": false}}, "y2": {"datum": 11.8}}},
        {"mark": {"type": "text", "align": "left", "baseline": "middle", "fontSize": 7.9, "fontStyle": "italic", "color": "#3d3431"},
         "encoding": {"x": {"datum": 0, "type": "quantitative", "scale": {"domain": [-1, 0, 1, 2, 3, 4, 5, 6, 7], "range": [530.7, 532.5, 554.7, 586.3, 620.7, 648, 674.5, 687.5, 704], "nice": false, "zero": false}},
                      "y": {"field": "row", "type": "quantitative", "scale": {"domain": [0, 11], "range": [-2.05, 100.8], "nice": false, "zero": false}}, "text": {"field": "n"}}},
        {"mark": {"type": "text", "align": "left", "baseline": "middle", "fontSize": 7.9, "color": "#3d3431"},
         "encoding": {"x": {"datum": 1, "type": "quantitative", "scale": {"domain": [-1, 0, 1, 2, 3, 4, 5, 6, 7], "range": [530.7, 532.5, 554.7, 586.3, 620.7, 648, 674.5, 687.5, 704], "nice": false, "zero": false}},
                      "y": {"field": "row", "type": "quantitative", "scale": {"domain": [0, 11], "range": [-2.05, 100.8], "nice": false, "zero": false}}, "text": {"field": "L"}}},
        {"mark": {"type": "text", "align": "left", "baseline": "middle", "fontSize": 7.9, "color": "#3d3431"},
         "encoding": {"x": {"datum": 2, "type": "quantitative", "scale": {"domain": [-1, 0, 1, 2, 3, 4, 5, 6, 7], "range": [530.7, 532.5, 554.7, 586.3, 620.7, 648, 674.5, 687.5, 704], "nice": false, "zero": false}},
                      "y": {"field": "row", "type": "quantitative", "scale": {"domain": [0, 11], "range": [-2.05, 100.8], "nice": false, "zero": false}}, "text": {"field": "a"}}},
        {"mark": {"type": "text", "align": "left", "baseline": "middle", "fontSize": 7.9, "color": "#3d3431"},
         "encoding": {"x": {"datum": 3, "type": "quantitative", "scale": {"domain": [-1, 0, 1, 2, 3, 4, 5, 6, 7], "range": [530.7, 532.5, 554.7, 586.3, 620.7, 648, 674.5, 687.5, 704], "nice": false, "zero": false}},
                      "y": {"field": "row", "type": "quantitative", "scale": {"domain": [0, 11], "range": [-2.05, 100.8], "nice": false, "zero": false}}, "text": {"field": "b"}}},
        {"mark": {"type": "text", "align": "left", "baseline": "middle", "fontSize": 7.9, "color": "#3d3431"},
         "encoding": {"x": {"datum": 4, "type": "quantitative", "scale": {"domain": [-1, 0, 1, 2, 3, 4, 5, 6, 7], "range": [530.7, 532.5, 554.7, 586.3, 620.7, 648, 674.5, 687.5, 704], "nice": false, "zero": false}},
                      "y": {"field": "row", "type": "quantitative", "scale": {"domain": [0, 11], "range": [-2.05, 100.8], "nice": false, "zero": false}}, "text": {"field": "C"}}},
        {"mark": {"type": "text", "align": "left", "baseline": "middle", "fontSize": 7.9, "color": "#3d3431"},
         "encoding": {"x": {"datum": 5, "type": "quantitative", "scale": {"domain": [-1, 0, 1, 2, 3, 4, 5, 6, 7], "range": [530.7, 532.5, 554.7, 586.3, 620.7, 648, 674.5, 687.5, 704], "nice": false, "zero": false}},
                      "y": {"field": "row", "type": "quantitative", "scale": {"domain": [0, 11], "range": [-2.05, 100.8], "nice": false, "zero": false}}, "text": {"field": "h"}}},
        {"mark": {"type": "text", "align": "left", "baseline": "middle", "fontSize": 7.9, "fontStyle": "italic", "color": "#3d3431"},
         "encoding": {"x": {"datum": 6, "type": "quantitative", "scale": {"domain": [-1, 0, 1, 2, 3, 4, 5, 6, 7], "range": [530.7, 532.5, 554.7, 586.3, 620.7, 648, 674.5, 687.5, 704], "nice": false, "zero": false}},
                      "y": {"field": "row", "type": "quantitative", "scale": {"domain": [0, 11], "range": [-2.05, 100.8], "nice": false, "zero": false}}, "text": {"field": "k"}}}
      ]
    }
  ]
}
